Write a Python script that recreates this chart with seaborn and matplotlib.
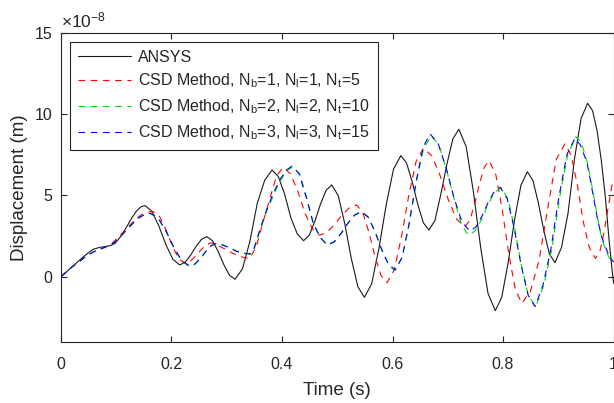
import matplotlib
matplotlib.use("Agg")
import matplotlib.pyplot as plt
import seaborn as sns

"""Displacement response: ANSYS vs CSD method for three discretisations"""

# time (s) and displacement (x1e-8 m)
t_ansys = [0, 0.01, 0.02, 0.034, 0.045, 0.058, 0.07, 0.08, 0.09, 0.098,
           0.11, 0.119, 0.128, 0.137, 0.145, 0.152,
           0.1646, 0.1772, 0.1898, 0.2024, 0.215,
           0.2248, 0.2346, 0.2444, 0.2542, 0.264,
           0.2742, 0.2844, 0.2946, 0.3048, 0.315,
           0.3284, 0.3418, 0.3552, 0.3686, 0.382,
           0.3934, 0.4048, 0.4162, 0.4276, 0.439,
           0.4492, 0.4594, 0.4696, 0.4798, 0.49,
           0.5018, 0.5136, 0.5254, 0.5372, 0.549,
           0.5622, 0.5754, 0.5886, 0.6018, 0.615,
           0.6252, 0.6354, 0.6456, 0.6558, 0.666,
           0.6768, 0.6876, 0.6984, 0.7092, 0.72,
           0.7332, 0.7464, 0.7596, 0.7728, 0.786,
           0.7976, 0.8092, 0.8208, 0.8324, 0.844,
           0.854, 0.864, 0.874, 0.884, 0.894,
           0.9058, 0.9176, 0.9294, 0.9412, 0.953,
           0.962, 0.97, 0.978, 0.985, 0.992, 0.997, 1.0]
y_ansys = [0, 0.3, 0.6, 1.03, 1.35, 1.68, 1.8, 1.85, 1.92, 2.05,
           2.55, 3.07, 3.6, 4.05, 4.3, 4.37,
           4.02, 3.11, 1.98, 1.07, 0.72,
           0.89, 1.32, 1.86, 2.29, 2.46,
           2.21, 1.55, 0.75, 0.09, -0.16,
           0.48, 2.16, 4.5, 5.92, 6.56,
           6.15, 5.06, 3.6, 2.63, 2.21,
           2.54, 3.4, 4.46, 5.31, 5.64,
           4.98, 3.25, 1.12, -0.61, -1.27,
           -0.44, 1.74, 4.43, 6.61, 7.44,
           7.0, 5.86, 4.45, 3.31, 2.87,
           3.46, 5.1, 6.92, 8.47, 9.06,
           8.0, 5.21, 1.76, -1.03, -2.09,
           -1.27, 0.86, 3.5, 5.63, 6.45,
           5.92, 4.52, 2.79, 1.39, 0.86,
           1.8, 3.9, 7.27, 9.72, 10.66,
           10.2, 9.0, 7.1, 4.92, 2.2, 0.5, -0.4]

t_csd1 = [0, 0.01, 0.02, 0.03, 0.045, 0.058, 0.07, 0.08, 0.09, 0.1, 0.11,
          0.125, 0.137, 0.146, 0.156, 0.167,
          0.1784, 0.1898, 0.2012, 0.2126, 0.224,
          0.2338, 0.2436, 0.2534, 0.2632, 0.273,
          0.285, 0.3, 0.312, 0.324, 0.334, 0.342,
          0.354, 0.366, 0.378, 0.39, 0.402,
          0.4152, 0.4284, 0.4416, 0.4548, 0.468,
          0.4814, 0.4948, 0.5082, 0.5216, 0.535,
          0.546, 0.557, 0.568, 0.579, 0.59,
          0.6032, 0.6164, 0.6296, 0.6428, 0.656,
          0.671, 0.686, 0.701, 0.716, 0.731,
          0.7398, 0.7486, 0.7574, 0.7662, 0.775,
          0.7868, 0.7986, 0.8104, 0.8222, 0.834,
          0.8496, 0.8652, 0.8808, 0.8964, 0.912,
          0.923, 0.934, 0.945, 0.956, 0.967,
          0.975, 0.982, 0.99, 0.997, 1.0]
y_csd1 = [0, 0.3, 0.6, 0.85, 1.25, 1.5, 1.68, 1.8, 1.98, 2.3, 2.65,
          3.18, 3.6, 3.82, 3.97, 4.0,
          3.7, 2.9, 1.92, 1.12, 0.82,
          0.94, 1.26, 1.65, 1.97, 2.09,
          1.9, 1.64, 1.42, 1.25, 1.15, 1.13,
          1.9, 3.4, 4.79, 6.19, 6.72,
          6.32, 5.28, 3.9, 2.95, 2.55,
          2.73, 3.19, 3.77, 4.23, 4.41,
          3.95, 2.76, 1.28, 0.09, -0.37,
          0.42, 2.48, 5.04, 7.1, 7.89,
          7.43, 6.22, 4.73, 3.53, 3.07,
          3.46, 4.47, 5.73, 6.74, 7.13,
          6.29, 4.1, 1.4, -0.79, -1.63,
          -0.9, 1.0, 4.2, 7.22, 8.16,
          7.49, 5.73, 3.4, 1.8, 1.13,
          1.5, 2.6, 4.2, 5.6, 6.0]

t_csd2 = [0, 0.01, 0.02, 0.03, 0.045, 0.06, 0.075, 0.09, 0.1, 0.11,
          0.125, 0.14, 0.152, 0.162,
          0.1762, 0.1904, 0.2046, 0.2188, 0.232,
          0.2424, 0.2526, 0.2624, 0.2722, 0.283,
          0.295, 0.306, 0.318, 0.33, 0.342,
          0.35, 0.36, 0.372, 0.384, 0.396, 0.408, 0.42,
          0.4324, 0.4448, 0.4572, 0.4696, 0.482,
          0.4944, 0.5068, 0.5192, 0.5316, 0.544,
          0.5562, 0.5684, 0.5806, 0.5928, 0.604,
          0.617, 0.63, 0.643, 0.656, 0.67,
          0.6838, 0.6976, 0.7114, 0.7252, 0.737,
          0.749, 0.761, 0.773, 0.785, 0.797,
          0.8092, 0.8214, 0.8336, 0.8458, 0.859,
          0.8736, 0.8882, 0.9028, 0.9174, 0.932,
          0.942, 0.953, 0.963, 0.971, 0.979, 0.986, 0.993, 1.0]
y_csd2 = [0, 0.3, 0.6, 0.85, 1.25, 1.55, 1.75, 1.95, 2.2, 2.55,
          3.1, 3.6, 3.83, 3.88,
          3.57, 2.77, 1.76, 0.94, 0.62,
          0.76, 1.12, 1.55, 1.9, 2.04,
          1.93, 1.76, 1.57, 1.45, 1.38,
          1.75, 2.8, 4.0, 4.95, 5.85, 6.5, 6.75,
          6.3, 4.85, 3.2, 2.38, 1.93,
          2.12, 2.63, 3.27, 3.78, 3.97,
          3.64, 2.75, 1.64, 0.74, 0.38,
          1.15, 3.2, 5.8, 7.85, 8.65,
          8.1, 6.6, 4.8, 3.15, 2.55,
          2.8, 3.5, 4.45, 5.2, 5.46,
          4.75, 2.9, 0.65, -1.15, -1.84,
          -0.55, 1.7, 4.95, 7.55, 8.6,
          8.2, 6.95, 5.2, 3.6, 2.3, 1.6, 1.1, 0.9]

t_csd3 = [0, 0.01, 0.02, 0.03, 0.045, 0.06, 0.075, 0.09, 0.1, 0.11,
          0.125, 0.14, 0.152, 0.162,
          0.1762, 0.1904, 0.2046, 0.2188, 0.233,
          0.2428, 0.2526, 0.2624, 0.2722, 0.282,
          0.295, 0.306, 0.318, 0.33, 0.342,
          0.35, 0.36, 0.372, 0.384, 0.396, 0.408, 0.418,
          0.4308, 0.4436, 0.4564, 0.4692, 0.482,
          0.4944, 0.5068, 0.5192, 0.5316, 0.544,
          0.5562, 0.5684, 0.5806, 0.5928, 0.605,
          0.6176, 0.6302, 0.6428, 0.6554, 0.668,
          0.6824, 0.6968, 0.7112, 0.7256, 0.74,
          0.751, 0.762, 0.773, 0.784, 0.795,
          0.8076, 0.8202, 0.8328, 0.8454, 0.858,
          0.8724, 0.8868, 0.9012, 0.9156, 0.93,
          0.94, 0.952, 0.962, 0.97, 0.978, 0.985, 0.993, 1.0]
y_csd3 = [0, 0.3, 0.6, 0.85, 1.25, 1.55, 1.75, 1.95, 2.2, 2.55,
          3.1, 3.6, 3.83, 3.9,
          3.59, 2.78, 1.78, 0.97, 0.66,
          0.79, 1.14, 1.57, 1.92, 2.05,
          1.92, 1.75, 1.55, 1.44, 1.4,
          1.8, 2.9, 4.1, 5.1, 5.95, 6.55, 6.8,
          6.34, 4.9, 3.3, 2.41, 1.95,
          2.15, 2.66, 3.29, 3.8, 4.0,
          3.66, 2.76, 1.65, 0.75, 0.41,
          1.21, 3.3, 5.88, 7.97, 8.77,
          8.2, 6.71, 4.86, 3.37, 2.8,
          3.06, 3.73, 4.56, 5.23, 5.49,
          4.79, 2.96, 0.69, -1.14, -1.84,
          -0.5, 1.73, 4.93, 7.51, 8.5,
          8.1, 7.0, 5.2, 3.7, 2.5, 1.85, 1.2, 0.9]

labels = [
    "ANSYS",
    r"CSD Method, N$_\mathrm{b}$=1, N$_\mathrm{l}$=1, N$_\mathrm{t}$=5",
    r"CSD Method, N$_\mathrm{b}$=2, N$_\mathrm{l}$=2, N$_\mathrm{t}$=10",
    r"CSD Method, N$_\mathrm{b}$=3, N$_\mathrm{l}$=3, N$_\mathrm{t}$=15",
]
colors = ["#1a1a1a", "#ff0000", "#00dd00", "#0000ff"]
x_ticks = [0, 0.2, 0.4, 0.6, 0.8, 1]
x_ticklabels = ["0", "0.2", "0.4", "0.6", "0.8", "1"]
y_ticks = [0, 5, 10, 15]

sns.set_theme(style="white")
plt.rcParams["font.family"] = ["Liberation Sans", "DejaVu Sans"]
plt.rcParams["mathtext.fontset"] = "custom"
plt.rcParams["mathtext.rm"] = "Liberation Sans"
plt.rcParams["mathtext.it"] = "Liberation Sans:italic"

fig = plt.figure(figsize=(6.14, 4.03), dpi=100)
ax = fig.add_axes([0.0993, 0.152, 0.900, 0.767])

series = [(t_ansys, y_ansys), (t_csd1, y_csd1), (t_csd2, y_csd2), (t_csd3, y_csd3)]
for i, (tt, yy) in enumerate(series):
    sns.lineplot(x=tt, y=yy, color=colors[i], linewidth=0.8, label=labels[i],
                 estimator=None, sort=False, ax=ax)
    line = ax.get_lines()[-1]
    if i > 0:
        line.set_dashes((6, 5))

ax.set_xlim(0, 1)
ax.set_ylim(-4, 15)
ax.set_xticks(x_ticks)
ax.set_xticklabels(x_ticklabels)
ax.set_yticks(y_ticks)

edge = "#262626"
for sp in ax.spines.values():
    sp.set_color(edge)
    sp.set_linewidth(0.8)
ax.tick_params(direction="in", length=4.3, width=0.8, color=edge,
               labelcolor=edge, labelsize=11.5, top=True, right=True,
               bottom=True, left=True)
ax.tick_params(axis="x", pad=11)
ax.tick_params(axis="y", pad=6)

ax.set_xlabel("Time (s)", fontsize=13.5, color=edge, labelpad=7)
ax.set_ylabel("Displacement (m)", fontsize=13.5, color=edge, labelpad=5)
ax.text(0.0, 1.008, r"$\times10^{-8}$", transform=ax.transAxes,
        ha="left", va="bottom", fontsize=12.5, color=edge)

leg = ax.legend(loc="upper left", bbox_to_anchor=(0.0172, 0.971),
                borderaxespad=0, fontsize=11.5, frameon=True, fancybox=False,
                handlelength=3.3, handletextpad=0.45, labelspacing=0.45,
                borderpad=0.5)
leg.get_frame().set_edgecolor(edge)
leg.get_frame().set_linewidth(0.8)
leg.get_frame().set_alpha(1)

fig.savefig("out.png", dpi=100)
